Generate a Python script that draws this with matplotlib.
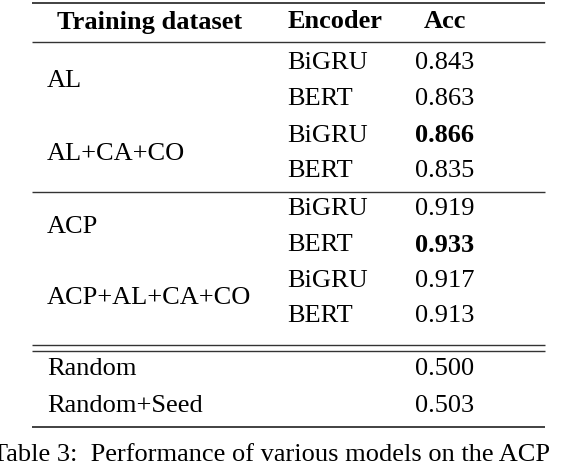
import matplotlib.pyplot as plt

plt.rcParams['font.family'] = ['Liberation Serif', 'DejaVu Serif']

headers = ['Training dataset', 'Encoder', 'Acc']
datasets = ['AL', 'AL+CA+CO', 'ACP', 'ACP+AL+CA+CO']
encoders = ['BiGRU', 'BERT']
acc = [[0.843, 0.863], [0.866, 0.835], [0.919, 0.933], [0.917, 0.913]]
best = [(1, 0), (2, 1)]
baselines = ['Random', 'Random+Seed']
baseline_acc = [0.500, 0.503]

fig = plt.figure(figsize=(5.82, 4.62), dpi=100)
ax = fig.add_axes([0, 0, 1, 1])
ax.set_xlim(0, 582)
ax.set_ylim(462, 0)
ax.axis('off')

fs = 19
x0, x1, x2 = 47, 287, 415
lx0, lx1 = 32, 545

def hline(y, lw=1.3):
    ax.plot([lx0, lx1], [y, y], color='#333333', lw=lw, solid_capstyle='butt')

hline(3)
ax.text(150, 22, headers[0], ha='center', va='center', fontsize=fs, fontweight='bold')
ax.text(335, 22, headers[1], ha='center', va='center', fontsize=fs, fontweight='bold')
ax.text(445, 22, headers[2], ha='center', va='center', fontsize=fs, fontweight='bold')
hline(42, 1.0)

row_ys = [[62, 98], [135, 170], [208, 244], [280, 315]]
for i, name in enumerate(datasets):
    ys = row_ys[i]
    ax.text(x0, sum(ys) / 2 + 1, name, ha='left', va='center', fontsize=fs)
    for j, enc in enumerate(encoders):
        ax.text(x1, ys[j] + 1, enc, ha='left', va='center', fontsize=fs)
        w = 'bold' if (i, j) in best else 'normal'
        ax.text(x2, ys[j] + 1, f'{acc[i][j]:.3f}', ha='left', va='center', fontsize=fs, fontweight=w)
hline(192, 1.0)

hline(345, 1.0)
hline(351, 1.0)
for name, a, y in zip(baselines, baseline_acc, [369, 406]):
    ax.text(x0, y, name, ha='left', va='center', fontsize=fs)
    ax.text(x2, y, f'{a:.3f}', ha='left', va='center', fontsize=fs)
hline(427)

ax.text(-8, 455, 'Table 3:  Performance of various models on the ACP', ha='left', va='center',
        fontsize=fs)

fig.savefig('out.png', dpi=100)
